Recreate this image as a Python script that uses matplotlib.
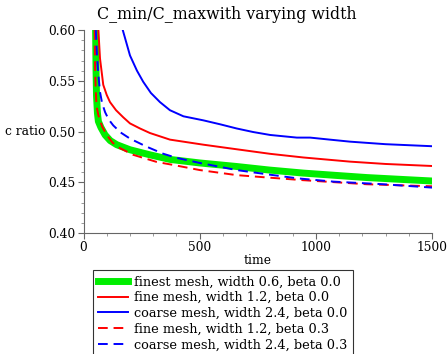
import matplotlib
matplotlib.use("Agg")
from matplotlib import pyplot as plt
from matplotlib.ticker import MultipleLocator

# finest mesh, width 0.6, beta 0.0
t_finest = [49, 52, 54, 56, 60, 64, 75, 93, 115, 143, 200, 286, 372, 500, 659, 800, 946, 1100, 1219, 1350, 1500]
c_finest = [0.64, 0.60, 0.56, 0.535, 0.518, 0.510, 0.504, 0.4966, 0.491, 0.487, 0.482, 0.477, 0.4725, 0.469, 0.4655, 0.462, 0.459, 0.4565, 0.4546, 0.453, 0.4512]
# fine mesh, width 1.2, beta 0.0
t_fine = [58, 64, 71, 85, 100, 114, 140, 171, 200, 243, 286, 372, 516, 659, 803, 946, 1147, 1300, 1500]
c_fine = [0.64, 0.60, 0.572, 0.546, 0.536, 0.529, 0.521, 0.514, 0.508, 0.503, 0.4985, 0.492, 0.487, 0.4825, 0.478, 0.4744, 0.4703, 0.468, 0.466]
# coarse mesh, width 2.4, beta 0.0
t_coarse = [160, 169, 200, 230, 257, 290, 329, 372, 430, 516, 590, 659, 730, 803, 918, 975, 1060, 1147, 1300, 1500]
c_coarse = [0.61, 0.60, 0.575, 0.560, 0.549, 0.538, 0.529, 0.521, 0.515, 0.511, 0.507, 0.503, 0.4995, 0.4966, 0.494, 0.494, 0.492, 0.490, 0.4875, 0.4855]
# fine mesh, width 1.2, beta 0.3
t_fine_b = [46, 48, 50, 53, 56, 64, 80, 100, 125, 157, 214, 315, 387, 500, 659, 800, 946, 1219, 1500]
c_fine_b = [0.64, 0.60, 0.56, 0.539, 0.525, 0.516, 0.505, 0.4966, 0.489, 0.4836, 0.477, 0.470, 0.467, 0.462, 0.457, 0.4545, 0.452, 0.448, 0.446]
# coarse mesh, width 2.4, beta 0.3
t_coarse_b = [50, 53, 58, 64, 71, 80, 93, 108, 128, 160, 200, 272, 344, 401, 500, 659, 800, 918, 1075, 1290, 1500]
c_coarse_b = [0.64, 0.60, 0.575, 0.556, 0.539, 0.528, 0.519, 0.512, 0.506, 0.499, 0.493, 0.485, 0.478, 0.474, 0.469, 0.462, 0.4575, 0.4539, 0.4506, 0.448, 0.4447]

font = 'DejaVu Serif'
fig = plt.figure(figsize=(4.48, 3.54), dpi=100)
ax = fig.add_axes([0.1864, 0.342, 0.778, 0.573])

ax.plot(t_finest, c_finest, color='#00ee00', lw=5, label='finest mesh, width 0.6, beta 0.0')
ax.plot(t_fine, c_fine, color='red', lw=1.4, label='fine mesh, width 1.2, beta 0.0')
ax.plot(t_coarse, c_coarse, color='blue', lw=1.4, label='coarse mesh, width 2.4, beta 0.0')
ax.plot(t_fine_b, c_fine_b, color='red', lw=1.4, ls=(0, (5, 3)), label='fine mesh, width 1.2, beta 0.3')
ax.plot(t_coarse_b, c_coarse_b, color='blue', lw=1.4, ls=(0, (5, 3)), label='coarse mesh, width 2.4, beta 0.3')

ax.set_xlim(0, 1500)
ax.set_ylim(0.40, 0.60)
ax.set_xticks([0, 500, 1000, 1500])
ax.set_yticks([0.40, 0.45, 0.50, 0.55, 0.60])
ax.set_yticklabels(['0.40', '0.45', '0.50', '0.55', '0.60'])
ax.xaxis.set_minor_locator(MultipleLocator(100))
ax.yaxis.set_minor_locator(MultipleLocator(0.01))
for s in ['top', 'right']:
    ax.spines[s].set_visible(False)
for s in ['left', 'bottom']:
    ax.spines[s].set_color('#666666')
ax.tick_params(which='major', length=4, color='#666666', labelsize=8.8, pad=2)
ax.tick_params(which='minor', length=2, color='#888888')
for lab in ax.get_xticklabels() + ax.get_yticklabels():
    lab.set_fontfamily(font)

ax.set_xlabel('time', fontsize=8.8, family=font, labelpad=0)
ax.set_ylabel('c ratio', fontsize=8.8, family=font, rotation=0, ha='right', va='center')
ax.yaxis.set_label_coords(-0.11, 0.5)
fig.text(0.507, 0.958, 'C_min/C_maxwith varying width', fontsize=11.4, family=font,
         ha='center', va='center')

leg = fig.legend(loc='upper left', bbox_to_anchor=(0.207, 0.237), borderaxespad=0,
                 fancybox=False, edgecolor='black', handlelength=2.3, labelspacing=0.22,
                 borderpad=0.4, handletextpad=0.5, prop={'family': font, 'size': 9.3})
leg.get_frame().set_linewidth(0.8)

fig.savefig('out.png', dpi=100)
